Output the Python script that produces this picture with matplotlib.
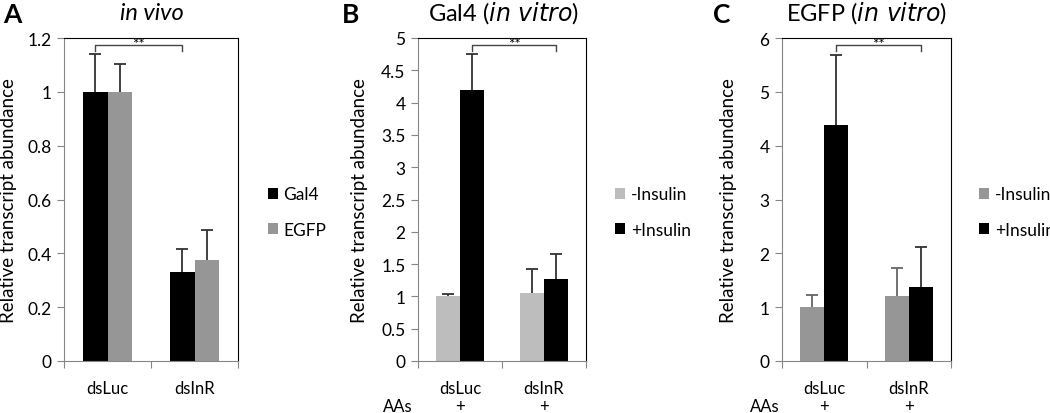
import matplotlib
matplotlib.use('Agg')
import matplotlib.pyplot as plt
import numpy as np

plt.rcParams['font.family'] = ['Lato', 'DejaVu Sans']

categories = ['dsLuc', 'dsInR']

# panel A: in vivo
a_series = ['Gal4', 'EGFP']
a_vals = [[1.0, 0.33], [1.0, 0.375]]
a_err = [[0.14, 0.085], [0.105, 0.11]]
a_colors = ['#000000', '#969696']
a_errcol = ['#333333', '#333333']

# panel B: Gal4 in vitro
b_series = ['-Insulin', '+Insulin']
b_vals = [[1.0, 1.05], [4.2, 1.27]]
b_err = [[0.04, 0.38], [0.55, 0.38]]
b_colors = ['#bdbdbd', '#000000']
b_errcol = ['#333333', '#333333']

# panel C: EGFP in vitro
c_series = ['-Insulin', '+Insulin']
c_vals = [[1.0, 1.2], [4.38, 1.38]]
c_err = [[0.23, 0.52], [1.3, 0.74]]
c_colors = ['#969696', '#000000']
c_errcol = ['#666666', '#333333']

W, H = 1050, 414
fig = plt.figure(figsize=(W / 100, H / 100), dpi=100)

def px(x0, x1):
    return [x0 / W, 1 - 362 / H, (x1 - x0) / W, (362 - 39) / H]

def panel(rect, series, vals, errs, colors, errcols, ymax, ystep, sig, leg_x, lab_x, aas):
    ax = fig.add_axes(rect)
    width = 0.285
    x = np.arange(len(categories))
    handles = []
    for i, name in enumerate(series):
        off = (i - 0.5) * width
        b = ax.bar(x + off, vals[i], width, color=colors[i], label=name, zorder=2)
        handles.append(b)
        top = np.array(vals[i]) + np.array(errs[i])
        # upper error bar only, with a cap at the top
        ax.vlines(x + off, vals[i], top, color=errcols[i], lw=1.3, zorder=3)
        ax.plot(x + off, top, ls='none', marker='_', ms=8, mew=1.3,
                color=errcols[i], zorder=3, clip_on=False)
    ax.set_xlim(-0.5, 1.5)
    ax.set_ylim(0, ymax)
    ticks = np.arange(0, ymax + ystep / 2, ystep)
    ax.set_yticks(ticks)
    ax.set_yticklabels(['%g' % t for t in ticks])
    ax.set_xticks([-0.5, 0.5, 1.5])
    ax.set_xticklabels([])
    ax.set_xticks(x, minor=True)
    ax.set_xticklabels(categories, minor=True)
    ax.tick_params(axis='x', which='minor', length=0, pad=14, labelsize=12)
    ax.tick_params(axis='x', which='major', length=5, color='#868686', direction='out')
    ax.tick_params(axis='y', length=5, color='#868686', direction='out', labelsize=12.5, pad=4)
    for s in ['left', 'bottom']:
        ax.spines[s].set_color('#868686')
    for s in ['top', 'right']:
        ax.spines[s].set_color('#000000')
    ax.set_ylabel('Relative transcript abundance', fontsize=13.5)
    ax.yaxis.set_label_coords(lab_x, 0.5)

    # significance bracket
    xl, xr, ylow, yhigh = sig
    ax.plot([xl, xl, xr, xr], [ylow, yhigh, yhigh, ylow], color='#444444', lw=1, clip_on=False)
    ax.text((xl + xr) / 2, yhigh + 0.004 * ymax, '**', ha='center', va='center', fontsize=11)

    fig.legend(handles=handles, labels=series, loc='center left',
               bbox_to_anchor=(leg_x / W, 1 - 213 / H), frameon=False, fontsize=12.5,
               handlelength=0.6, handleheight=0.6, handletextpad=0.3, labelspacing=1.1,
               borderpad=0, borderaxespad=0)
    if aas:
        ax.text(aas, -0.14, 'AAs', transform=ax.transAxes, ha='center', va='center', fontsize=12)
        for xi in x:
            ax.text(xi, -0.14, '+', transform=ax.get_xaxis_transform(), ha='center',
                    va='center', fontsize=12)
    return ax

axA = panel(px(64, 238), a_series, a_vals, a_err, a_colors, a_errcol, 1.2, 0.2,
            (-0.1425, 0.8575, 1.152, 1.174), 268, -0.27, None)
axB = panel(px(418, 586), b_series, b_vals, b_err, b_colors, b_errcol, 5, 0.5,
            (0.1425, 1.1425, 4.80, 4.89), 615, -0.30, -0.12)
axC = panel(px(782, 951), c_series, c_vals, c_err, c_colors, c_errcol, 6, 1,
            (0.1425, 1.1425, 5.76, 5.87), 979, -0.266, -0.10)

fig.text(3 / W, 1 - 15 / H, 'A', fontsize=19, fontweight='bold', va='center', ha='left')
fig.text(152 / W, 1 - 13 / H, 'in vivo', fontsize=17, style='italic', va='center', ha='center')
fig.text(342 / W, 1 - 15 / H, 'B', fontsize=19, fontweight='bold', va='center', ha='left')
fig.text(504 / W, 1 - 13 / H, 'Gal4 ($\\it{in\\ vitro}$)', fontsize=17, va='center', ha='center')
fig.text(713 / W, 1 - 15 / H, 'C', fontsize=19, fontweight='bold', va='center', ha='left')
fig.text(867 / W, 1 - 13 / H, 'EGFP ($\\it{in\\ vitro}$)', fontsize=17, va='center', ha='center')

fig.savefig('out.png', dpi=100)
